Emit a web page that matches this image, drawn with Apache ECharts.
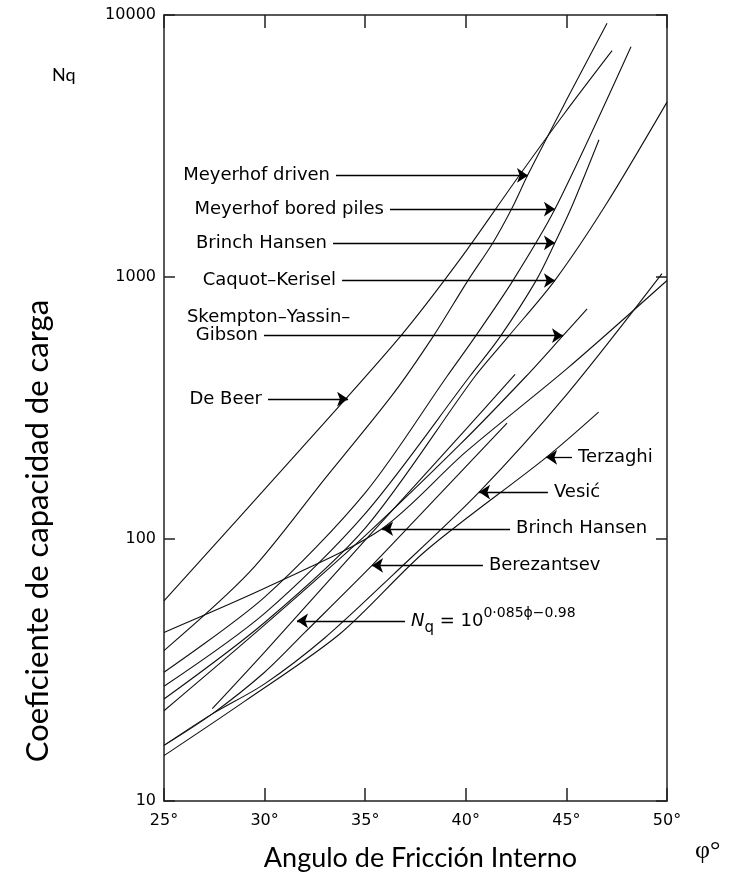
<!DOCTYPE html>
<html lang="es">
<head>
<meta charset="utf-8">
<title>Nq - Angulo de friccion interno</title>
<script src="https://cdn.jsdelivr.net/npm/echarts@6/dist/echarts.min.js"></script>
<style>
    html, body { margin: 0; padding: 0; background: #fff; }
    #main { width: 734px; height: 877px; }
</style>
</head>
<body>
<div id="main"></div>
<script>
    // curvas: [phi (grados), Nq]
    var deBeer = [[25, 58], [31.76, 219], [36.73, 591], [39.71, 1167], [42.55, 2377], [44.88, 4190], [47.27, 7310]];
    var meyerhofDriven = [[25, 37.5], [29.27, 75], [33, 170], [36.38, 357], [38.37, 592], [40.11, 971], [41.35, 1352],
        [42.3, 1833], [43.09, 2460], [45.03, 4775], [47.02, 9310]];
    var meyerhofBored = [[25, 31], [30, 60], [35, 150], [39.07, 418], [40.46, 591], [42.35, 971], [44.43, 1816], [48.21, 7570]];
    var brinchHansen = [[25, 27.4], [30, 52], [35, 125], [40.2, 418], [41.7, 591], [43.5, 971], [44.43, 1350], [45.28, 1866], [46.62, 3340]];
    var caquotKerisel = [[25, 24.5], [30, 48], [35, 110], [40.46, 418], [42.1, 591], [44.43, 971], [46.92, 1865], [50, 4650]];
    var skempton = [[25, 22.1], [30, 47], [35, 103], [39.7, 229], [43, 418], [44.83, 597], [46.03, 755]];
    var brinchHansenLow = [[25, 44], [30.4, 67], [35.8, 109], [40, 215], [45, 445], [50, 970]];
    var vesic = [[25, 16.3], [27.4, 21.5], [30, 28], [33, 42], [36.38, 73], [40.66, 151], [45, 355], [49.75, 1030]];
    var terzaghi = [[25, 14.9], [29, 24], [33.75, 43.5], [38, 90], [44, 205], [46.6, 305]];
    var berezantsev = [[25, 16.3], [27.4, 21.5], [30, 31], [32, 44], [35.34, 79.3], [38, 130], [42.05, 277]];
    var nqFormula = [[27.4, 22.5], [30, 37], [35, 99], [40, 262], [42.45, 425]];

    var curves = [deBeer, meyerhofDriven, meyerhofBored, brinchHansen, caquotKerisel, skempton,
        brinchHansenLow, vesic, terzaghi, berezantsev, nqFormula];

    var yTicks = ['10', '100', '1000', '10000'];

    // flechas: [texto, phi inicio, phi punta, Nq]
    var arrowsRight = [
        ['Meyerhof driven', 33.55, 43.09, 2442],
        ['Meyerhof bored piles', 36.23, 44.43, 1816],
        ['Brinch Hansen', 33.40, 44.43, 1350],
        ['Caquot–Kerisel', 33.85, 44.43, 970],
        ['Gibson', 29.97, 44.83, 597],
        ['De Beer', 30.17, 34.15, 342]
    ];
    var arrowsLeft = [
        ['Terzaghi', 45.28, 43.99, 205],
        ['Vesić', 44.08, 40.66, 151],
        ['Brinch Hansen', 42.20, 35.84, 109.4],
        ['Berezantsev', 40.85, 35.34, 79.3],
        ['{n|N}{s|q}{e| = 10}{p|0·085ϕ−0.98}', 36.98, 31.61, 48.7]
    ];

    var labelFont = 'DejaVu Sans';
    var myChart = echarts.init(document.getElementById('main'));

    var arrowData = arrowsRight.concat(arrowsLeft).map(function (a) {
        return [{name: a[0], coord: [a[1], a[3]]}, {coord: [a[2], a[3]]}];
    });

    var series = curves.map(function (c) {
        return {
            type: 'line',
            data: c,
            smooth: 0.3,
            showSymbol: false,
            silent: true,
            lineStyle: {color: '#111', width: 1.1}
        };
    });

    series.push({
        type: 'line',
        data: [],
        silent: true,
        markLine: {
            silent: true,
            symbol: ['none', 'arrow'],
            symbolSize: 11,
            lineStyle: {color: '#000', width: 1.3, type: 'solid'},
            itemStyle: {color: '#000'},
            label: {
                show: true,
                position: 'start',
                distance: 6,
                formatter: '{b}',
                color: '#000',
                fontSize: 18,
                fontFamily: labelFont,
                rich: {
                    n: {fontSize: 18, fontStyle: 'italic', fontFamily: labelFont, lineHeight: 30, color: '#000'},
                    s: {fontSize: 15, fontFamily: labelFont, verticalAlign: 'bottom', lineHeight: 13, color: '#000'},
                    e: {fontSize: 18, fontFamily: labelFont, color: '#000'},
                    p: {fontSize: 14, fontFamily: labelFont, verticalAlign: 'top', lineHeight: 13, color: '#000'}
                }
            },
            data: arrowData
        },
        markPoint: {
            silent: true,
            symbolSize: 0,
            label: {
                show: true,
                position: 'right',
                distance: 0,
                formatter: '{b}',
                color: '#000',
                fontSize: 18,
                fontFamily: labelFont
            },
            data: [{name: 'Skempton–Yassin–', coord: [26.14, 700]}]
        }
    });

    var frameLine = {show: true, lineStyle: {color: '#222', width: 1.5}};

    option = {
        animation: false,
        grid: {left: 164, right: 67, top: 15, bottom: 68},
        xAxis: [
            {
                type: 'value', min: 25, max: 50, interval: 5, position: 'bottom',
                axisLine: frameLine,
                axisTick: {inside: true, length: 13, lineStyle: {color: '#222', width: 1.5}},
                axisLabel: {formatter: '{value}°', margin: 12, color: '#000', fontSize: 16, fontFamily: labelFont},
                splitLine: {show: false},
                name: 'Angulo de Fricción Interno',
                nameLocation: 'middle',
                nameGap: 44,
                nameTextStyle: {color: '#000', fontSize: 27, fontFamily: 'Lato', padding: [0, 0, 0, 10]}
            },
            {
                type: 'value', min: 25, max: 50, interval: 5, position: 'top',
                axisLine: frameLine,
                axisTick: {inside: true, length: 13, lineStyle: {color: '#222', width: 1.5}},
                axisLabel: {show: false},
                splitLine: {show: false}
            }
        ],
        yAxis: [
            {
                type: 'log', logBase: 10, min: 10, max: 10000, position: 'left',
                axisLine: frameLine,
                axisTick: {inside: true, length: 11, lineStyle: {color: '#222', width: 1.5}},
                axisLabel: {
                    margin: 8, color: '#000', fontSize: 16, fontFamily: labelFont,
                    formatter: function (v) {
                        return yTicks[Math.round(Math.log10(v)) - 1];
                    }
                },
                splitLine: {show: false},
                minorTick: {show: false}
            },
            {
                type: 'log', logBase: 10, min: 10, max: 10000, position: 'right',
                axisLine: frameLine,
                axisTick: {inside: true, length: 11, lineStyle: {color: '#222', width: 1.5}},
                axisLabel: {show: false},
                splitLine: {show: false}
            }
        ],
        graphic: [
            {type: 'text', left: 52, top: 66, style: {text: 'Nq', fontSize: 18, fontFamily: 'Lato', fill: '#000'}},
            {
                type: 'text', x: 38, y: 531, rotation: Math.PI / 2,
                style: {text: 'Coeficiente de capacidad de carga', fontSize: 31, fontFamily: 'Lato', fill: '#000',
                    align: 'center', verticalAlign: 'middle'}
            },
            {type: 'text', left: 695, top: 838, style: {text: 'φ°', fontSize: 26, fontFamily: 'Liberation Serif', fill: '#000'}}
        ],
        series: series
    };
    myChart.setOption(option);
</script>
</body>
</html>
